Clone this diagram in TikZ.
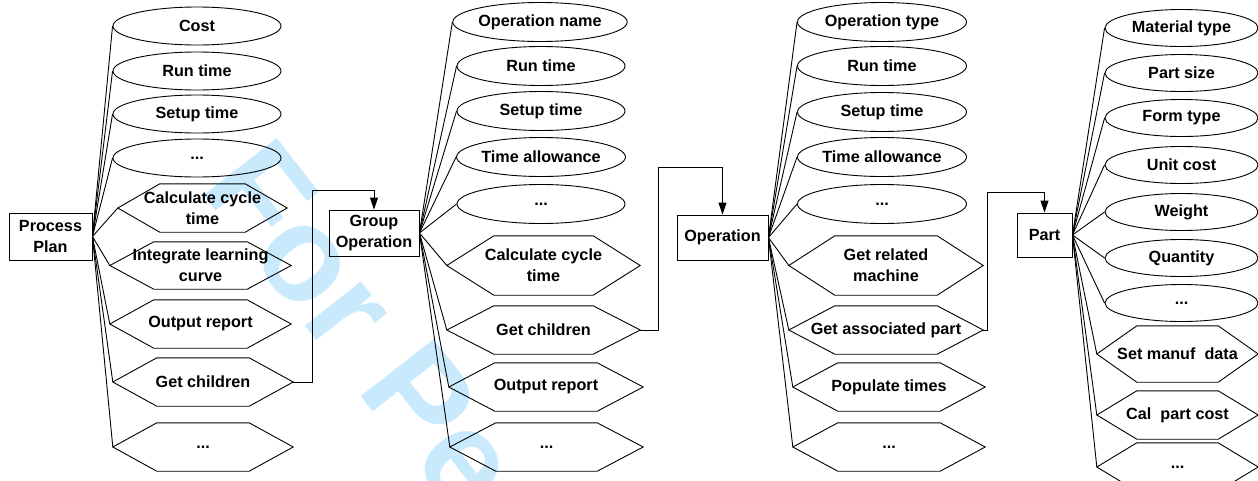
\documentclass[tikz,border=0pt]{standalone}
\usepackage{fontspec}
\setmainfont{Liberation Sans}
\usetikzlibrary{shapes.geometric,arrows.meta}
\definecolor{wmblue}{RGB}{200,234,252}
\newcommand\dfont{\fontsize{16.2}{21}\selectfont\bfseries}
\newcommand\hexdraw[2]{\draw[shapeline] (#1.west) -- ([xshift=#2]#1.north west) -- ([xshift=-#2]#1.north east) -- (#1.east) -- ([xshift=-#2]#1.south east) -- ([xshift=#2]#1.south west) -- cycle;}
\begin{document}
\begin{tikzpicture}[x=1pt,y=-1pt,
  shapeline/.style={line width=0.9pt},
  box/.style={draw, shapeline, rectangle, inner sep=0, align=center, font=\dfont},
  ell/.style={draw, shapeline, ellipse, inner sep=0, font=\dfont},
  hex/.style={rectangle, draw=none, inner sep=0, align=center, font=\dfont},
  conn/.style={line width=0.9pt},
  arr/.style={conn, -{Triangle[length=12pt,width=8pt]}},
  wm/.style={text=wmblue, font=\fontsize{135}{135}\bfseries\selectfont, inner sep=0}]
\useasboundingbox (0,0) rectangle (1258,480);
\clip (0,0) rectangle (1258,480);
% watermark
\node[wm, rotate=-52, anchor=base west] (wmark) at (198,188) {For Peer Review};
% ---------- column 1
\node[box, minimum width=83, minimum height=47] (pp) at (50.5,236.5) {Process\\Plan};
\node[ell, minimum width=168, minimum height=38] (e11) at (197,26) {Cost};
\node[ell, minimum width=168, minimum height=38] (e12) at (197,71) {Run time};
\node[ell, minimum width=168, minimum height=38] (e13) at (197,114) {Setup time};
\node[ell, minimum width=168, minimum height=38] (e14) at (197,158) {...};
\node[hex, minimum width=169, minimum height=48] (h11) at (202.5,208) {Calculate cycle\\time};
\node[hex, minimum width=181, minimum height=47] (h12) at (200.5,265.5) {Integrate learning\\curve};
\node[hex, minimum width=181, minimum height=48] (h13) at (200.5,324) {Output report};
\node[hex, minimum width=180, minimum height=48] (h14) at (203,382) {Get children};
\node[hex, minimum width=180, minimum height=48] (h15) at (203,447) {...};
\hexdraw{h11}{42}\hexdraw{h12}{44}\hexdraw{h13}{44}\hexdraw{h14}{44}\hexdraw{h15}{44}
\foreach \n in {e11,e12,e13,e14,h11,h12,h13,h14,h15} \draw[conn] (pp.east) -- (\n.west);
% ---------- column 2
\node[box, minimum width=90, minimum height=46] (go) at (374,233) {Group\\Operation};
\node[ell, minimum width=168, minimum height=39] (e21) at (540,22) {Operation name};
\node[ell, minimum width=168, minimum height=39] (e22) at (541,66) {Run time};
\node[ell, minimum width=168, minimum height=39] (e23) at (541,111) {Setup time};
\node[ell, minimum width=168, minimum height=39] (e24) at (541,157) {Time allowance};
\node[ell, minimum width=168, minimum height=39] (e25) at (541,204) {...};
\node[hex, minimum width=193, minimum height=59] (h21) at (543.5,265.5) {Calculate cycle\\time};
\node[hex, minimum width=193, minimum height=48] (h22) at (543.5,330) {Get children};
\node[hex, minimum width=194, minimum height=48] (h23) at (546,387) {Output report};
\node[hex, minimum width=193, minimum height=48] (h24) at (546.5,447) {...};
\hexdraw{h21}{47}\hexdraw{h22}{47}\hexdraw{h23}{46}\hexdraw{h24}{46}
\foreach \n in {e21,e22,e23,e24,e25,h21,h22,h23,h24} \draw[conn] (go.east) -- (\n.west);
% ---------- column 3
\node[box, minimum width=91, minimum height=45] (op) at (722.5,237.5) {Operation};
\node[ell, minimum width=169, minimum height=39] (e31) at (882,22) {Operation type};
\node[ell, minimum width=169, minimum height=39] (e32) at (882,66) {Run time};
\node[ell, minimum width=169, minimum height=39] (e33) at (882,112) {Setup time};
\node[ell, minimum width=169, minimum height=39] (e34) at (882,157) {Time allowance};
\node[ell, minimum width=169, minimum height=39] (e35) at (882,204) {...};
\node[hex, minimum width=194, minimum height=59] (h31) at (886,265.5) {Get related\\machine};
\node[hex, minimum width=194, minimum height=48] (h32) at (886,330) {Get associated part};
\node[hex, minimum width=192, minimum height=48] (h33) at (889,387) {Populate times};
\node[hex, minimum width=192, minimum height=48] (h34) at (889,447) {...};
\hexdraw{h31}{46}\hexdraw{h32}{46}\hexdraw{h33}{45}\hexdraw{h34}{45}
\foreach \n in {e31,e32,e33,e34,e35,h31,h32,h33,h34} \draw[conn] (op.east) -- (\n.west);
% ---------- column 4
\node[box, minimum width=55, minimum height=44] (pt) at (1044.5,235) {Part};
\node[ell, minimum width=153, minimum height=37] (e41) at (1181.5,28) {Material type};
\node[ell, minimum width=153, minimum height=37] (e42) at (1181.5,73) {Part size};
\node[ell, minimum width=153, minimum height=37] (e43) at (1181.5,118) {Form type};
\node[ell, minimum width=153, minimum height=37] (e44) at (1181.5,165) {Unit cost};
\node[ell, minimum width=153, minimum height=37] (e45) at (1181.5,212) {Weight};
\node[ell, minimum width=153, minimum height=37] (e46) at (1181.5,258) {Quantity};
\node[ell, minimum width=153, minimum height=37] (e47) at (1181.5,303) {...};
\node[hex, minimum width=161, minimum height=56] (h41) at (1177.5,354) {Set manuf\ \ data};
\node[hex, minimum width=161, minimum height=48] (h42) at (1177.5,415) {Cal\ \ part cost};
\node[hex, minimum width=161, minimum height=48] (h43) at (1177.5,467) {...};
\hexdraw{h41}{40}\hexdraw{h42}{40}\hexdraw{h43}{40}
\foreach \n in {e41,e42,e43,e44,e45,e46,e47,h41,h42,h43} \draw[conn] (pt.east) -- (\n.west);
% ---------- links between levels
\draw[arr] (h14.east) -- ++(19,0) |- ([yshift=19]go.north) -- (go.north);
\draw[arr] (h22.east) -- ++(18,0) |- ([yshift=47]op.north) -- (op.north);
\draw[arr] (h32.east) -- ++(4,0) |- ([yshift=20]pt.north) -- (pt.north);
\end{tikzpicture}
\end{document}
